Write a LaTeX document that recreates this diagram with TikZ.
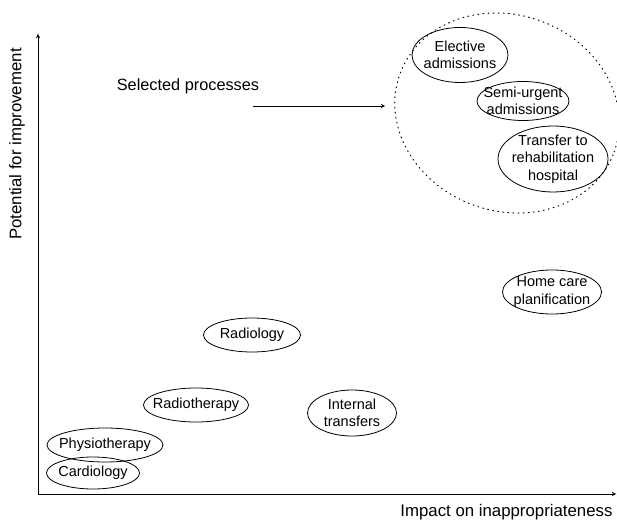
\documentclass[tikz,border=0pt]{standalone}
\usepackage{fontspec}
\setmainfont{Liberation Sans}
\usetikzlibrary{shapes.geometric, arrows}
\tikzstyle{arrow} = [line width=0.9pt,->,>=stealth]
\tikzstyle{proc} = [draw, line width=0.8pt, ellipse, inner sep=-12pt, align=center, font=\fontsize{14.5}{17.5}\selectfont]
\tikzstyle{axislabel} = [font=\fontsize{16.8}{19}\selectfont]

\begin{document}
\begin{tikzpicture}[x=1pt,y=-1pt]
	\useasboundingbox (0,0) rectangle (617,521);
	% axes
	\coordinate (O) at (38,494);
	\coordinate (ytop) at (38,34);
	\coordinate (xend) at (616,494);
	\draw[arrow] (O) -- (ytop);
	\draw[arrow] (O) -- (xend);
	\node[axislabel, rotate=90] (ylab) at (17,144) {Potential for improvement};
	\node[axislabel, anchor=east] (xlab) at (616,512) {Impact on inappropriateness};
	% selected group
	\node[draw, line width=1pt, dash pattern=on 0.9pt off 4.2pt, line cap=round, ellipse,
		minimum width=228, minimum height=196, rotate=-20] (sel) at (507,113) {};
	\node[font=\fontsize{16.3}{19}\selectfont] (seltext) at (188,86) {Selected processes};
	\coordinate (s) at (253,106);
	\draw[arrow] (s) -- (385,106);
	% processes
	\node[proc, minimum width=96, minimum height=55] (elective) at (460,55) {Elective\\admissions};
	\node[proc, minimum width=92, minimum height=39] (semi) at (523,101) {Semi-urgent\\admissions};
	\node[proc, minimum width=110, minimum height=66] (rehab) at (553,159) {Transfer to\\rehabilitation\\hospital};
	\node[proc, minimum width=99, minimum height=44] (home) at (552,292) {Home care\\planification};
	\node[proc, minimum width=89, minimum height=46] (internal) at (352,413) {Internal\\transfers};
	\node[proc, minimum width=97, minimum height=34] (radiology) at (252,335) {Radiology};
	\node[proc, minimum width=105, minimum height=34] (radiotherapy) at (196,405) {Radiotherapy};
	\node[proc, minimum width=116, minimum height=34] (physio) at (105,445) {Physiotherapy};
	\node[proc, minimum width=93, minimum height=32] (cardio) at (93,473) {Cardiology};
\end{tikzpicture}
\end{document}
